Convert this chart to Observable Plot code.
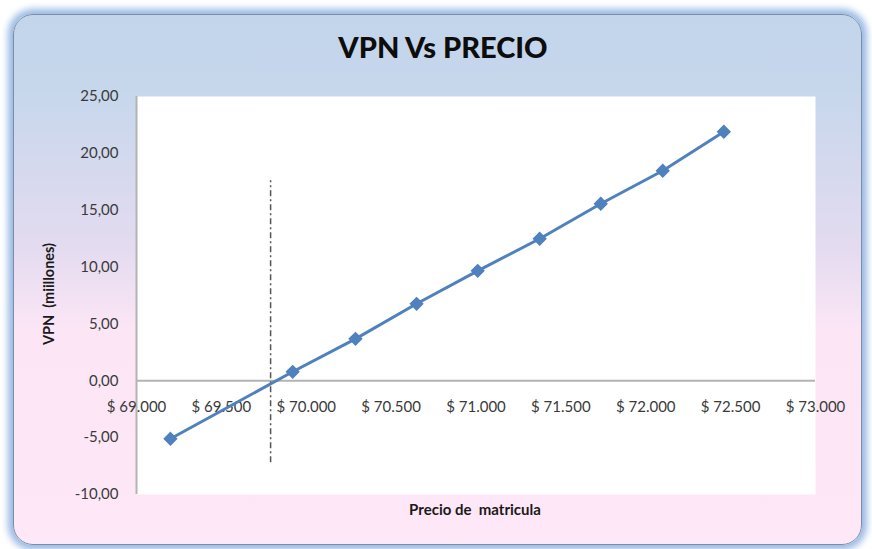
<!DOCTYPE html>
<html>
<head>
<meta charset="utf-8">
<script src="https://cdn.jsdelivr.net/npm/d3@7"></script>
<script src="https://cdn.jsdelivr.net/npm/@observablehq/plot@0.6"></script>
<style>
  html, body { margin: 0; padding: 0; background: #ffffff; }
  #wrap { position: relative; width: 872px; height: 549px; overflow: hidden; font-family: Lato, "Open Sans", sans-serif; }
  #frame {
    position: absolute; left: 13px; top: 14px; width: 847px; height: 529px;
    border-radius: 20px; border: 1.5px solid #7d8ea4;
    box-shadow: 0 0 7px 5px #98b9e4;
    background: linear-gradient(to bottom, #c3d5eb 0%, #c6d7ec 14%, #e4dbf0 44%, #fce6f6 60%, #fee8f7 100%);
  }
  #title { position: absolute; left: 0; width: 886px; top: 29px; text-align: center; font-size: 29px; font-weight: 900; color: #0d0d0d; }
  #ylab { position: absolute; left: 48px; top: 294px; transform: translate(-50%, -50%) rotate(-90deg); font-size: 14.5px; font-weight: bold; color: #1a1a1a; white-space: pre; }
  #xlab { position: absolute; left: 475px; top: 509px; transform: translate(-50%, -50%); font-size: 15px; font-weight: bold; color: #1a1a1a; white-space: pre; }
  #chart { position: absolute; left: 0; top: 0; }
</style>
</head>
<body>
<div id="wrap">
  <div id="frame"></div>
  <div id="chart"></div>
  <div id="title">VPN Vs PRECIO</div>
  <div id="ylab">VPN  (miillones)</div>
  <div id="xlab">Precio de  matricula</div>
</div>
<script>
const precio = [69200, 69920, 70290, 70650, 71010, 71375, 71735, 72100, 72460];
const vpn = [-5.10, 0.79, 3.69, 6.77, 9.67, 12.49, 15.57, 18.47, 21.90];
const xTicks = [69000, 69500, 70000, 70500, 71000, 71500, 72000, 72500, 73000];
const yTicks = [-10, -5, 0, 5, 10, 15, 20, 25];
const cutPrecio = [69790];
const cutVpnRange = [-7.2, 17.6];

const data = precio.map((p, i) => ({precio: p, vpn: vpn[i]}));
const fmtY = d => d.toFixed(2).replace(".", ",");
const fmtX = d => "$ " + d3.format(",")(d).replace(/,/g, ".");

const chart = Plot.plot({
  width: 872,
  height: 549,
  marginLeft: 136,
  marginRight: 57,
  marginTop: 96,
  marginBottom: 55,
  style: {background: "transparent", fontFamily: "Lato, 'Open Sans', sans-serif", overflow: "visible"},
  x: {domain: [69000, 73000]},
  y: {domain: [-10, 25]},
  marks: [
    Plot.frame({fill: "white", stroke: "none"}),
    Plot.axisY(yTicks, {tickSize: 0, tickPadding: 18, tickFormat: fmtY, fontSize: 15, fill: "#3a3a3a", label: null}),
    Plot.axisX({ticks: [], label: null, tickSize: 0}),
    Plot.ruleX([xTicks[0]], {stroke: "#b3b3b3", strokeWidth: 2}),
    Plot.ruleY([0], {stroke: "#b3b3b3", strokeWidth: 2}),
    Plot.text(xTicks, {x: d => d, y: 0, text: fmtX, dy: 26, fontSize: 15, fill: "#3a3a3a"}),
    Plot.ruleX(cutPrecio, {y1: cutVpnRange[0], y2: cutVpnRange[1], stroke: "#555", strokeWidth: 1.5, strokeDasharray: "6,3,2,3"}),
    Plot.line(data, {x: "precio", y: "vpn", stroke: "#4f81bd", strokeWidth: 3}),
    Plot.dot(data, {x: "precio", y: "vpn", symbol: "diamond2", fill: "#4f81bd", stroke: "#4f81bd", r: 5.5})
  ]
});
document.getElementById("chart").appendChild(chart);
</script>
</body>
</html>
